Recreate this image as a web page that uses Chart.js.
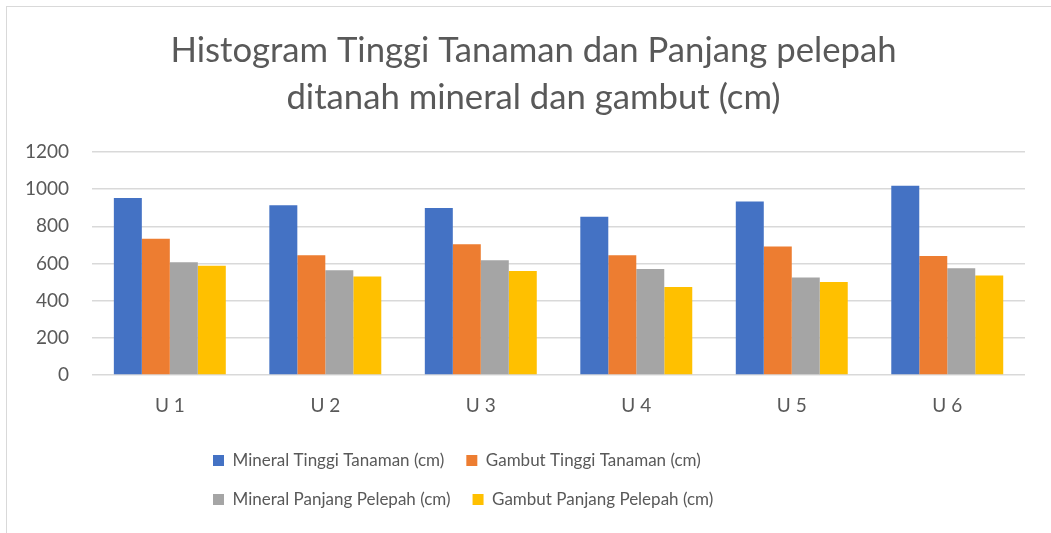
<!DOCTYPE html>
<html>
<head>
<meta charset="utf-8">
<script src="https://cdn.jsdelivr.net/npm/chart.js@4.4.1/dist/chart.umd.min.js"></script>
<style>
html, body { margin: 0; padding: 0; background: #ffffff; overflow: hidden; }
#frame { position: absolute; left: 6px; top: 6px; width: 1200px; height: 700px;
  border-left: 1px solid #d9d9d9; border-top: 1px solid #d9d9d9; }
#c { position: absolute; left: 0; top: 0; }
</style>
</head>
<body>
<div id="frame"></div>
<canvas id="c" width="1051" height="533"></canvas>
<script>
// ---- data ----
const categories = ['U 1', 'U 2', 'U 3', 'U 4', 'U 5', 'U 6'];
const seriesNames = [
  'Mineral Tinggi Tanaman (cm)',
  'Gambut Tinggi Tanaman (cm)',
  'Mineral Panjang Pelepah (cm)',
  'Gambut Panjang Pelepah (cm)'
];
const mineralTinggi = [952, 914, 898, 851, 934, 1018];
const gambutTinggi = [733, 645, 704, 645, 692, 640];
const mineralPelepah = [607, 564, 618, 570, 525, 575];
const gambutPelepah = [588, 530, 559, 473, 500, 536];
const yMin = 0, yMax = 1200, yStep = 200;
const titleLines = ['Histogram Tinggi Tanaman dan Panjang pelepah', 'ditanah mineral dan gambut (cm)'];

// ---- styles ----
const colors = ['#4472C4', '#ED7D31', '#A5A5A5', '#FFC000'];
const textColor = '#595959';
const FONT = "Lato, 'Open Sans', 'DejaVu Sans', sans-serif";
const LEGEND_PAD = 22;
const LEGEND_FONT = 17;
const LEGEND_LEFT = 213 - LEGEND_PAD;
const LEGEND_W = 640;
const LEGEND_ROW1_Y = 460;
const TITLE_SHIFT = 20;

const legendLayout = {
  id: 'legendLayout',
  beforeLayout(chart) {
    const lg = chart.legend;
    if (lg && !lg._patched) {
      const orig = lg.update;
      lg.update = function (mw, mh, m) { return orig.call(this, Math.min(mw, LEGEND_W), mh, m); };
      lg._patched = true;
    }
  },
  afterLayout(chart) {
    const lg = chart.legend;
    if (lg) {
      const h = lg.height;
      lg.left = LEGEND_LEFT; lg.right = LEGEND_LEFT + LEGEND_W; lg.width = LEGEND_W;
      lg.top = Math.round(LEGEND_ROW1_Y - LEGEND_PAD - LEGEND_FONT / 2);
      lg.bottom = lg.top + h;
    }
    const t = chart.titleBlock;
    if (t) { t.left += TITLE_SHIFT; t.right += TITLE_SHIFT; }
  }
};

const seriesData = [mineralTinggi, gambutTinggi, mineralPelepah, gambutPelepah];

new Chart(document.getElementById('c'), {
  type: 'bar',
  data: {
    labels: categories,
    datasets: seriesData.map((d, i) => ({
      label: seriesNames[i],
      data: d,
      backgroundColor: colors[i],
      borderWidth: 0,
      categoryPercentage: 0.72,
      barPercentage: 1.0
    }))
  },
  plugins: [legendLayout],
  options: {
    responsive: false,
    animation: false,
    devicePixelRatio: 1,
    layout: { padding: { left: 2, right: 26, top: 0, bottom: 8 } },
    plugins: {
      title: {
        display: true,
        text: titleLines,
        color: textColor,
        font: { family: FONT, size: 34.7, weight: 'normal', lineHeight: '47px' },
        padding: { top: 27, bottom: 31 }
      },
      legend: {
        display: true,
        position: 'bottom',
        align: 'start',
        labels: {
          color: textColor,
          boxWidth: 11,
          boxHeight: 11,
          padding: LEGEND_PAD,
          font: { family: FONT, size: LEGEND_FONT }
        }
      },
      tooltip: { enabled: false }
    },
    scales: {
      x: {
        grid: { display: false, drawTicks: false },
        border: { display: false },
        ticks: {
          color: textColor,
          padding: 0,
          font: { family: FONT, size: 19, lineHeight: '62px' }
        }
      },
      y: {
        min: yMin,
        max: yMax,
        grid: { color: '#d9d9d9', lineWidth: 1.5, drawTicks: false },
        border: { display: false },
        ticks: {
          stepSize: yStep,
          color: textColor,
          padding: 23,
          font: { family: FONT, size: 19 },
          callback: (v) => String(v)
        }
      }
    }
  }
});
</script>
</body>
</html>
